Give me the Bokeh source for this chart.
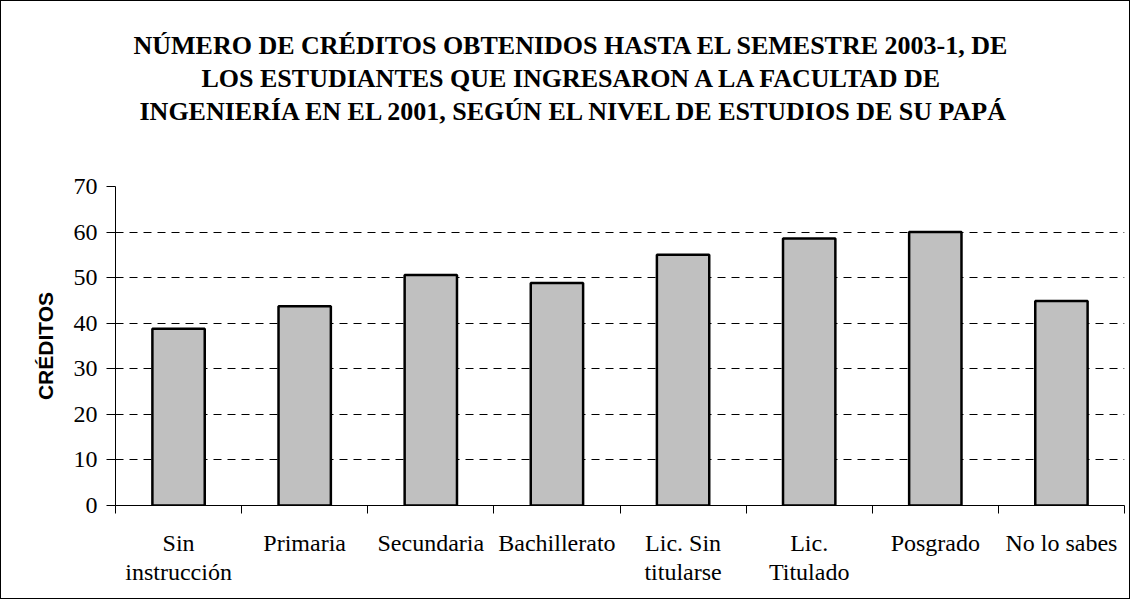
from bokeh.plotting import figure
from bokeh.models import Range1d, FixedTicker, Title
from bokeh.embed import file_html
from bokeh.resources import INLINE

title_lines = [
    "NÚMERO DE  CRÉDITOS OBTENIDOS HASTA EL SEMESTRE 2003-1, DE",
    "LOS ESTUDIANTES QUE INGRESARON A LA FACULTAD DE",
    "INGENIERÍA EN EL 2001, SEGÚN EL NIVEL DE ESTUDIOS DE SU PAPÁ",
]
categories = ["Sin\ninstrucción", "Primaria", "Secundaria", "Bachillerato",
              "Lic. Sin\ntitularse", "Lic.\nTitulado", "Posgrado", "No lo sabes"]
creditos = [38.8, 43.7, 50.6, 48.8, 55.0, 58.6, 60.0, 44.9]
y_ticks = [0, 10, 20, 30, 40, 50, 60, 70]
y_label = "CRÉDITOS"

n = len(categories)
xpos = [i + 0.5 for i in range(n)]

W, H = 1130, 599
p = figure(width=W, height=H, output_backend="svg", toolbar_location=None,
           x_range=Range1d(0, n), y_range=Range1d(0, 70),
           min_border_left=114, min_border_right=7,
           min_border_top=185, min_border_bottom=95)
p.styles = {"border": "1px solid black", "box-sizing": "border-box"}
p.outline_line_color = None
p.background_fill_color = "white"
p.border_fill_color = "white"

p.vbar(x=xpos, top=creditos, width=0.415, fill_color="#c0c0c0",
       line_color="black", line_width=2.5)

# x axis: labels centred under bars, ticks between categories
xa = p.xaxis[0]
xa.ticker = FixedTicker(ticks=xpos, minor_ticks=list(range(n + 1)))
xa.major_label_overrides = {x: c for x, c in zip(xpos, categories)}
xa.major_tick_line_color = None
xa.major_tick_out = 0
xa.major_tick_in = 0
xa.minor_tick_out = 8
xa.minor_tick_in = 0
xa.minor_tick_line_color = "black"
xa.axis_line_color = "black"
xa.major_label_text_font = "Liberation Serif"
xa.major_label_text_font_size = "24px"
xa.major_label_text_color = "black"
xa.major_label_text_line_height = 1.15
xa.major_label_standoff = 16

# y axis
ya = p.yaxis[0]
ya.ticker = FixedTicker(ticks=y_ticks)
ya.major_tick_out = 9
ya.major_tick_in = 0
ya.minor_tick_line_color = None
ya.axis_line_color = "black"
ya.major_tick_line_color = "black"
ya.major_label_text_font = "Liberation Serif"
ya.major_label_text_font_size = "24px"
ya.major_label_text_color = "black"
ya.major_label_standoff = 9
ya.axis_label = y_label
ya.axis_label_text_font = "Liberation Sans"
ya.axis_label_text_font_style = "bold"
ya.axis_label_text_font_size = "21px"
ya.axis_label_text_color = "black"
ya.axis_label_standoff = 14

p.xgrid.grid_line_color = None
p.ygrid.ticker = FixedTicker(ticks=y_ticks[1:-1])
p.ygrid.grid_line_color = "black"
p.ygrid.grid_line_dash = "8 6"
p.ygrid.grid_line_width = 1

# title: three lines, each centred around the chart's centre
offsets = [18, 86, 24]
p.add_layout(Title(text=" ", text_font_size="26px", standoff=27), "above")
for line, off in reversed(list(zip(title_lines, offsets))):
    p.add_layout(Title(text=line, align="left", offset=off, standoff=2,
                       vertical_align="middle",
                       text_font="Liberation Serif", text_font_style="bold",
                       text_font_size="26px", text_color="black"), "above")

open("out.html", "w").write(file_html(p, INLINE))
